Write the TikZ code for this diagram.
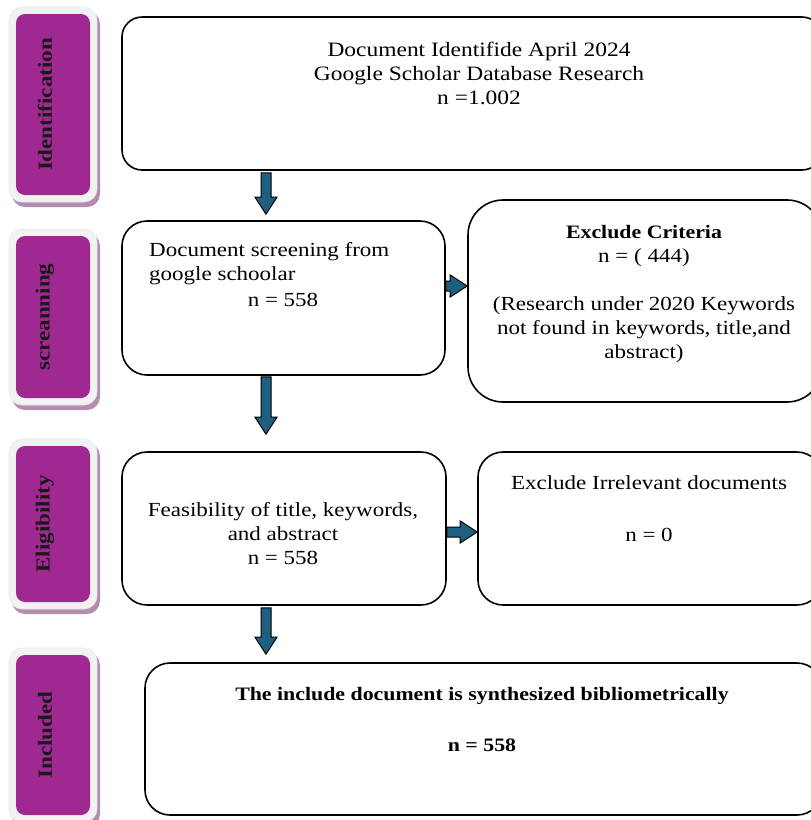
\documentclass[tikz,border=0pt]{standalone}
\usepackage{fontspec}
\setmainfont[FakeStretch=1.15]{Liberation Serif}
\usetikzlibrary{calc}
\definecolor{arrowblue}{RGB}{31,95,128}
\definecolor{labpurple}{RGB}{160,40,145}
\definecolor{labshadow}{RGB}{180,140,175}
\definecolor{labrim}{RGB}{242,242,242}
\tikzset{
  box/.style={draw=black, line width=1.6pt, rounded corners=25pt, inner sep=0pt},
  txt/.style={font=\fontsize{20}{24}\selectfont, align=center, inner sep=0pt},
  boldtxt/.style={font=\bfseries\fontsize{19}{24}\selectfont},
  labbox/.style={fill=labpurple, rounded corners=9pt, inner sep=0pt, minimum width=74pt},
  labtxt/.style={font=\bfseries\fontsize{20}{22}\selectfont, rotate=90, inner sep=0pt, text=black!90},
  rim/.style={fill=labrim, draw=black!8, line width=0.6pt, rounded corners=13pt},
  shade/.style={fill=labshadow, rounded corners=13pt},
  arrowsty/.style={fill=arrowblue, draw=black, line width=1pt, line join=miter}
}
\newcommand{\barrow}[2]{%
  \coordinate (tmpH) at ($(#2)!17pt!(#1)$);
  \filldraw[arrowsty] ($(#1)!5pt!90:(#2)$) -- ($(tmpH)!5pt!90:(#2)$) -- ($(tmpH)!11pt!90:(#2)$) -- (#2)
    -- ($(tmpH)!11pt!-90:(#2)$) -- ($(tmpH)!5pt!-90:(#2)$) -- ($(#1)!5pt!-90:(#2)$) -- cycle;
}
\begin{document}
\begin{tikzpicture}[x=1pt,y=-1pt]
\clip (0,0) rectangle (811,820);
\fill[white] (0,0) rectangle (811,820);

% side labels
\fill[shade] (12,11) rectangle (100,207);
\fill[rim] (9,7) rectangle (97,202);
\node[labbox, minimum height=181pt] (l1) at (53,104.5) {};
\node[labtxt] (l1t) at (45,104.5) {Identification};

\fill[shade] (12,233) rectangle (100,410);
\fill[rim] (9,229) rectangle (97,405);
\node[labbox, minimum height=162pt] (l2) at (53,317) {};
\node[labtxt] (l2t) at (45,317) {screanning};

\fill[shade] (12,443) rectangle (100,614);
\fill[rim] (9,439) rectangle (97,609);
\node[labbox, minimum height=156pt] (l3) at (53,524) {};
\node[labtxt] (l3t) at (45,524) {Eligibility};

\fill[shade] (12,652) rectangle (100,827);
\fill[rim] (9,648) rectangle (97,822);
\node[labbox, minimum height=160pt] (l4) at (53,735) {};
\node[labtxt] (l4t) at (45,735) {Included};

% main boxes
\node[box, minimum width=700pt, minimum height=153pt, rounded corners=20pt] (b1) at (472,93.5) {};
\node[box, minimum width=323pt, minimum height=154pt] (b2) at (283.5,298) {};
\node[box, minimum width=354pt, minimum height=202pt, rounded corners=35pt] (b3) at (645,301) {};
\node[box, minimum width=324pt, minimum height=153pt] (b4) at (284,528.5) {};
\node[box, minimum width=344pt, minimum height=153pt] (b5) at (650,528.5) {};
\node[box, minimum width=677pt, minimum height=152pt] (b6) at (483.5,739) {};

% texts
\node[txt, font=\fontsize{20.4}{24}\selectfont] (t1) at (479,73) {Document Identifide April 2024\\Google Scholar Database Research\\n =1.002};
\node[txt, align=left, anchor=west] (t2) at (149,264) {Document screening from\\google schoolar};
\node[txt] (t2n) at (283,300) {n = 558};
\node[txt] (t3) at (644,294.5) {{\bfseries\fontsize{19}{24}\selectfont Exclude Criteria}\\n = ( 444)\\[24pt](Research under 2020 Keywords\\not found in keywords, title,and\\abstract)};
\node[txt] (t4) at (283,533.5) {Feasibility of title, keywords,\\and abstract\\n = 558};
\node[txt] (t5) at (649,509) {Exclude Irrelevant documents\\[28pt]n = 0};
\node[txt, boldtxt] (t6) at (482,719.5) {The include document is synthesized bibliometrically\\[27pt]n = 558};

% arrows
\coordinate (ax) at (266,0);
\coordinate (a1s) at ($(b1.south -| ax)+(0,2)$);
\coordinate (a1e) at ($(b2.north -| ax)+(0,-6)$);
\barrow{a1s}{a1e}
\coordinate (a2s) at ($(b2.south -| ax)+(0,1)$);
\coordinate (a2e) at ($(b4.north -| ax)+(0,-17)$);
\barrow{a2s}{a2e}
\coordinate (a3s) at ($(b4.south -| ax)+(0,2)$);
\coordinate (a3e) at ($(b6.north -| ax)+(0,-8)$);
\barrow{a3s}{a3e}
\coordinate (h1s) at ($(b2.east)+(0,-12)$);
\coordinate (h1e) at (b3.west |- h1s);
\barrow{h1s}{h1e}
\coordinate (h2s) at ($(b4.east)+(0,3.5)$);
\coordinate (h2e) at (b5.west |- h2s);
\barrow{h2s}{h2e}
\end{tikzpicture}
\end{document}
